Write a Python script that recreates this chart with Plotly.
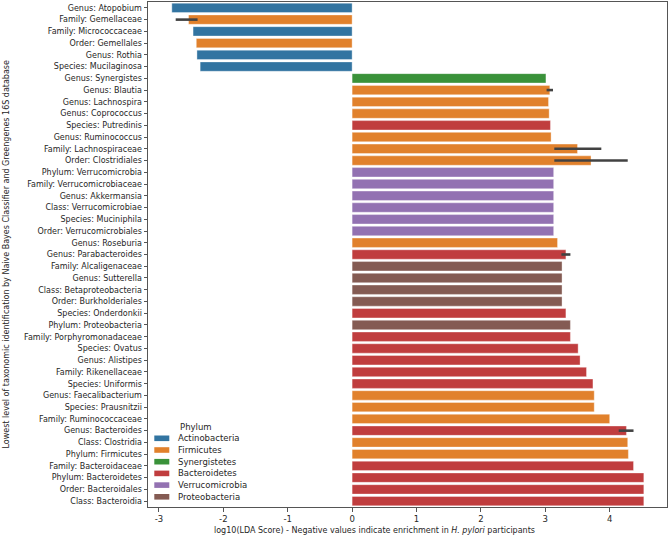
import plotly.graph_objects as go

labels = [
    "Genus: Atopobium", "Family: Gemellaceae", "Family: Micrococcaceae", "Order: Gemellales",
    "Genus: Rothia", "Species: Mucilaginosa", "Genus: Synergistes", "Genus: Blautia",
    "Genus: Lachnospira", "Genus: Coprococcus", "Species: Putredinis", "Genus: Ruminococcus",
    "Family: Lachnospiraceae", "Order: Clostridiales", "Phylum: Verrucomicrobia",
    "Family: Verrucomicrobiaceae", "Genus: Akkermansia", "Class: Verrucomicrobiae",
    "Species: Muciniphila", "Order: Verrucomicrobiales", "Genus: Roseburia",
    "Genus: Parabacteroides", "Family: Alcaligenaceae", "Genus: Sutterella",
    "Class: Betaproteobacteria", "Order: Burkholderiales", "Species: Onderdonkii",
    "Phylum: Proteobacteria", "Family: Porphyromonadaceae", "Species: Ovatus",
    "Genus: Alistipes", "Family: Rikenellaceae", "Species: Uniformis",
    "Genus: Faecalibacterium", "Species: Prausnitzii", "Family: Ruminococcaceae",
    "Genus: Bacteroides", "Class: Clostridia", "Phylum: Firmicutes",
    "Family: Bacteroidaceae", "Phylum: Bacteroidetes", "Order: Bacteroidales",
    "Class: Bacteroidia",
]

lda = [
    -2.80, -2.54, -2.47, -2.42, -2.41, -2.36, 3.01, 3.07, 3.05, 3.06, 3.08, 3.09,
    3.50, 3.71, 3.13, 3.13, 3.13, 3.13, 3.13, 3.13, 3.19, 3.32, 3.26, 3.26, 3.26,
    3.26, 3.32, 3.39, 3.39, 3.51, 3.54, 3.64, 3.74, 3.76, 3.76, 4.00, 4.26, 4.28,
    4.29, 4.37, 4.53, 4.53, 4.53,
]

phylum = [
    "Actinobacteria", "Firmicutes", "Actinobacteria", "Firmicutes", "Actinobacteria",
    "Actinobacteria", "Synergistetes", "Firmicutes", "Firmicutes", "Firmicutes",
    "Bacteroidetes", "Firmicutes", "Firmicutes", "Firmicutes", "Verrucomicrobia",
    "Verrucomicrobia", "Verrucomicrobia", "Verrucomicrobia", "Verrucomicrobia",
    "Verrucomicrobia", "Firmicutes", "Bacteroidetes", "Proteobacteria", "Proteobacteria",
    "Proteobacteria", "Proteobacteria", "Bacteroidetes", "Proteobacteria", "Bacteroidetes",
    "Bacteroidetes", "Bacteroidetes", "Bacteroidetes", "Bacteroidetes", "Firmicutes",
    "Firmicutes", "Firmicutes", "Bacteroidetes", "Firmicutes", "Firmicutes",
    "Bacteroidetes", "Bacteroidetes", "Bacteroidetes", "Bacteroidetes",
]

# confidence interval limits (None where no interval is drawn)
ci_low = [None, -2.74] + [None] * 5 + [3.02] + [None] * 4 + [3.14, 3.14] + [None] * 7 + [3.25] + [None] * 14 + [4.14] + [None] * 6
ci_high = [None, -2.40] + [None] * 5 + [3.12] + [None] * 4 + [3.87, 4.28] + [None] * 7 + [3.39] + [None] * 14 + [4.37] + [None] * 6

phyla = ["Actinobacteria", "Firmicutes", "Synergistetes", "Bacteroidetes", "Verrucomicrobia", "Proteobacteria"]
colors = ["#3274a1", "#e1812c", "#3a923a", "#c03d3e", "#9372b2", "#845b53"]

xticks = [-3, -2, -1, 0, 1, 2, 3, 4]

FONT = "DejaVu Sans"
W, H = 669, 542
ML, MR, MT, MB = 148, 2, 2, 35
PW, PH = W - ML - MR, H - MT - MB

fig = go.Figure()
for p, c in zip(phyla, colors):
    ys = [l for l, ph in zip(labels, phylum) if ph == p]
    xs = [v for v, ph in zip(lda, phylum) if ph == p]
    fig.add_trace(go.Bar(
        x=xs, y=ys, orientation="h", name=p, showlegend=False,
        marker=dict(color=c, line=dict(width=0.6, color="rgba(255,255,255,0.6)")),
        width=0.8,
    ))

ex, ey = [], []
for l, lo, hi in zip(labels, ci_low, ci_high):
    if lo is None:
        continue
    ex += [lo, hi, None]
    ey += [l, l, None]
fig.add_trace(go.Scatter(x=ex, y=ey, mode="lines", line=dict(color="#424242", width=2.6),
                         showlegend=False, hoverinfo="skip"))

# custom legend (layout decoration, in paper coordinates)
def px_x(px):
    return (px - ML) / PW

def px_y(py):
    return 1 - (py - MT) / PH

shapes = []
annotations = []
leg_top = 438.3
leg_step = 11.7
annotations.append(dict(text="Phylum", xref="paper", yref="paper", x=px_x(178), y=px_y(427),
                        xanchor="left", yanchor="middle", showarrow=False,
                        font=dict(size=8.5, family=FONT, color="#262626")))
for i, (p, c) in enumerate(zip(phyla, colors)):
    cy = leg_top + i * leg_step
    shapes.append(dict(type="rect", xref="paper", yref="paper",
                       x0=px_x(154.3), x1=px_x(169.3), y0=px_y(cy + 2.8), y1=px_y(cy - 2.8),
                       fillcolor=c, line=dict(width=0)))
    annotations.append(dict(text=p, xref="paper", yref="paper", x=px_x(175.5), y=px_y(cy),
                            xanchor="left", yanchor="middle", showarrow=False,
                            font=dict(size=8.5, family=FONT, color="#262626")))

annotations.append(dict(
    text="log10(LDA Score) - Negative values indicate enrichment in <i>H. pylori</i> participants",
    xref="paper", yref="paper", x=px_x(374.5), y=0, yshift=-23.5, xanchor="center", yanchor="middle",
    showarrow=False, font=dict(size=8, family=FONT, color="#262626")))
annotations.append(dict(
    text="Lowest level of taxonomic identification by Naive Bayes Classifier and Greengenes 16S database",
    xref="paper", yref="paper", x=0, xshift=-142, y=0.5, xanchor="center", yanchor="middle",
    textangle=-90, showarrow=False, font=dict(size=8, family=FONT, color="#262626")))

fig.update_layout(
    width=W, height=H,
    margin=dict(l=ML, r=MR, t=MT, b=MB),
    barmode="overlay",
    plot_bgcolor="white", paper_bgcolor="white",
    font=dict(family=FONT, size=8, color="#262626"),
    showlegend=False,
    xaxis=dict(
        range=[-3.17, 4.89], tickvals=xticks, ticktext=[str(t) for t in xticks],
        showgrid=False, zeroline=False, showline=True, mirror=True, automargin=False,
        linecolor="#555", linewidth=1, ticks="outside", ticklen=3.5, tickcolor="#555",
        tickfont=dict(size=8.5),
    ),
    yaxis=dict(
        type="category", categoryorder="array", categoryarray=labels,
        range=[42.5, -0.5], automargin=False,
        showgrid=False, zeroline=False, showline=True, mirror=True,
        linecolor="#555", linewidth=1, ticks="outside", ticklen=3.5, tickcolor="#555",
        tickfont=dict(size=8),
    ),
    shapes=shapes,
    annotations=annotations,
)

fig.write_html("out.html", config={"displayModeBar": False},
               post_script="document.body.style.margin='0px';")
